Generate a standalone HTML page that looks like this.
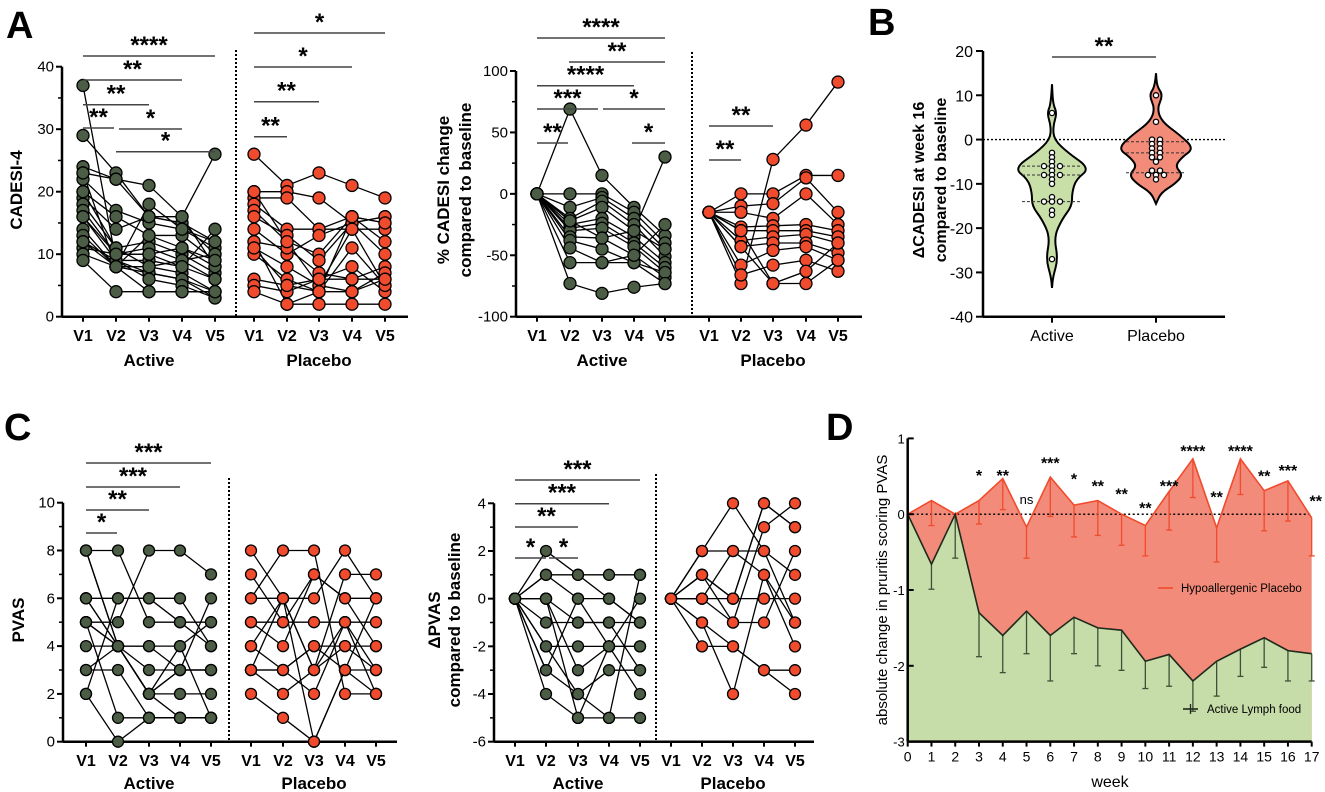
<!DOCTYPE html>
<html><head><meta charset="utf-8">
<style>
html,body{margin:0;padding:0;background:#fff;}
svg{display:block;font-family:"Liberation Sans",Arial,sans-serif;}
</style></head>
<body>
<svg id="fig" width="1325" height="792" viewBox="0 0 1325 792" xmlns="http://www.w3.org/2000/svg"></svg>
<script>
// ===== Data =====
const visits = ["V1","V2","V3","V4","V5"];
// Panel A left: CADESI-4
const aActive = [[37,9,7,6,4],[29,23,16,15,12],[24,22,21,16,26],[23,22,16,15,10],[22,17,15,14,11],[20,16,13,13,9],[19,14,16,16,8],[18,11,12,10,7],[17,10,11,9,6],[16,9,9,8,6],[14,8,8,7,4],[13,8,7,6,3],[12,9,6,5,3],[11,10,10,11,8],[10,8,4,4,4],[9,4,4,4,4],[23,8,18,14,12],[20,11,8,9,10],[16,10,10,8,14],[12,8,13,11,9]];
const aPlacebo = [[26,21,23,21,19],[20,20,19,15,16],[19,19,14,16,15],[18,14,14,14,14],[17,12,10,16,12],[16,13,9,15,10],[14,10,13,15,16],[12,11,7,6,8],[11,8,5,4,7],[10,6,4,4,6],[6,5,4,11,5],[5,4,6,8,4],[4,2,2,2,2],[20,12,5,14,5],[12,2,4,16,15],[11,5,6,6,6]];
// Panel A right: % CADESI change
const pActive = [[0,69,15,-11,-34],[0,0,0,-15,-40],[0,-11,-3,-20,-45],[0,-20,-6,-25,-51],[0,-22,-11,-30,30],[0,-25,-20,-35,-56],[0,-28,-24,-40,-60],[0,-30,-28,-43,-64],[0,-35,-36,-50,-68],[0,-38,-45,-56,-73],[0,-44,-56,-56,-64],[0,-56,-56,-50,-25],[0,-73,-81,-76,-73],[0,-22,-36,-30,-45]];
const pPlacebo = [[-15,-73,28,56,91],[-15,0,0,15,15],[-15,-10,-8,13,-15],[-15,-15,-20,0,-25],[-15,-27,-26,-25,-30],[-15,-30,-30,-30,-35],[-15,-38,-35,-33,-40],[-15,-43,-40,-40,-48],[-15,-58,-46,-43,-54],[-15,-66,-58,-54,-63],[-15,-30,-73,-63,-40],[-15,-43,-73,-73,-54]];
// Panel C left: PVAS
const cActive = [[8,8,5,5,4],[8,4,2,1,1],[8,4,2,2,2],[6,6,6,6,4],[6,4,2,3,6],[5,5,8,8,7],[5,4,3,3,3],[5,4,2,4,1],[4,4,4,4,5],[3,3,1,1,1],[3,4,4,3,3],[2,0,1,1,1],[6,4,2,3,3],[5,1,1,1,1],[2,6,6,5,5]];
const cPlacebo = [[8,6,3,5,3],[7,5,7,6,6],[6,8,8,2,2],[6,6,3,4,4],[5,5,5,5,5],[4,6,6,8,6],[3,3,4,4,3],[3,6,0,3,6],[3,2,3,7,7],[3,3,4,3,2],[2,1,0,3,3],[4,3,2,5,2],[5,4,7,6,4]];
// Panel C right: delta PVAS
const dActive = [[0,2,1,1,1],[0,1,0,0,-1],[0,1,1,0,-1],[0,0,-1,-1,-1],[0,0,-3,-2,-2],[0,-1,-1,-1,-3],[0,-2,-2,-2,-2],[0,-2,-4,-3,-3],[0,-3,0,-2,-4],[0,-3,-4,-5,1],[0,-4,-5,-5,-5],[0,0,-5,-2,0]];
const dPlacebo = [[0,2,4,2,1],[0,2,2,2,-1],[0,1,0,4,3],[0,1,-1,3,4],[0,0,0,0,0],[0,0,2,1,-2],[0,-1,-2,-3,-3],[0,-1,-4,1,-1],[0,-2,-2,-3,-4],[0,0,-1,-1,2],[0,1,0,4,3]];
// Panel B: violin points
const bActivePts = [6,-3,-4,-5,-6,-6,-6,-7,-8,-8,-8,-9,-10,-13,-14,-14,-14,-16,-17,-27];
const bPlaceboPts = [10,4,0,0,-1,-1,-2,-2,-3,-3,-4,-4,-5,-7,-7,-8,-8,-8,-9];
const bActiveProfileV = [12.5,8,6,3,0,-3,-6.5,-9,-12,-15,-18,-22,-27,-31,-33.5];
const bActiveProfileW = [0,1,5,1,2,16,38,24,20,20,10,2,6,1,0];
const bPlaceboProfileV = [15,12,10,7,4,1,-2,-4,-6,-8,-10,-12,-14.5];
const bPlaceboProfileW = [0,1,7,1,6,24,38,26,19,27,19,5,0];
const bActiveQuart = [-6,-8,-14];
const bPlaceboQuart = [-0.5,-3,-7.5];
// Panel D
const weeks = [0,1,2,3,4,5,6,7,8,9,10,11,12,13,14,15,16,17];
const dPlac = [0,0.18,0,0.18,0.47,-0.17,0.49,0.12,0.18,0,-0.15,0.3,0.73,-0.18,0.73,0.31,0.44,-0.05];
const dPlacErr = [0,-0.15,0,-0.13,0.06,-0.58,-0.03,-0.3,-0.28,-0.41,-0.55,-0.21,0.22,-0.63,0.26,-0.22,-0.09,-0.55];
const dAct = [0,-0.66,0,-1.3,-1.6,-1.28,-1.6,-1.36,-1.5,-1.53,-1.94,-1.85,-2.2,-1.94,-1.78,-1.63,-1.8,-1.84];
const dActErr = [0,-0.99,-0.58,-1.88,-2.09,-1.84,-2.2,-1.84,-2.0,-2.06,-2.3,-2.27,-2.6,-2.4,-2.14,-2.02,-2.2,-2.2];
const dSig = ["","","","*","**","ns","***","*","**","**","**","***","****","**","****","**","***","**"];
const dSigY = [0,0,0,0.56,0.56,0.2,0.72,0.51,0.42,0.31,0.13,0.42,0.88,0.27,0.88,0.55,0.62,0.22];
const dYTicks = [1,0,-1,-2,-3];

// ===== Helpers =====
const NS = "http://www.w3.org/2000/svg";
const svg = document.getElementById("fig");
function mk(tag, attrs, parent){
  const e = document.createElementNS(NS, tag);
  for (const k in attrs) e.setAttribute(k, attrs[k]);
  (parent||svg).appendChild(e);
  return e;
}
function txt(s, attrs, parent){ const e = mk("text", attrs, parent); e.textContent = s; return e; }
const GREEN = "#4b5d45", RED = "#f04b2d";

function pairedPanel(c){
  const g = mk("g", {});
  
  
  const y = v => c.py0 + (v - c.vmin) * (c.py1 - c.py0) / (c.vmax - c.vmin);
  const ax = mk("line", {x1:c.ax, y1:y(c.vmax), x2:c.ax, y2:y(c.vmin), stroke:"#000","stroke-width":2.5}, g);
  
  
  const xa = mk("line", {x1:c.ax, y1:y(c.vmin), x2:c.xEnd, y2:y(c.vmin), stroke:"#000","stroke-width":2.5}, g);
  
  
  c.ticks.forEach((t,i)=>{
    mk("line",{x1:c.ax-6,y1:y(t),x2:c.ax,y2:y(t),stroke:"#000","stroke-width":2},g);
    if (i < c.ticks.length-1){ const m=(t+c.ticks[i+1])/2; mk("line",{x1:c.ax-4,y1:y(m),x2:c.ax,y2:y(m),stroke:"#000","stroke-width":1.5},g); }
    const tl = txt(String(t),{x:c.ax-8,y:y(t)+5,"text-anchor":"end","font-size":c.tf||15},g);
    
    
  });
  const dv = mk("line",{x1:c.div,y1:c.divTop,x2:c.div,y2:y(c.vmin),stroke:"#000","stroke-width":2,"stroke-dasharray":"2,2"},g);
  
  
  [[c.actX,"Active"],[c.plaX,"Placebo"]].forEach(([xs,lab])=>{
    xs.forEach((x,i)=>{
      mk("line",{x1:x,y1:y(c.vmin),x2:x,y2:y(c.vmin)+5,stroke:"#000","stroke-width":2},g);
      const vl = txt(visits[i],{x:x,y:c.vY,"text-anchor":"middle","font-size":16,"font-weight":"bold"},g);
      
      
    });
    const gl = txt(lab,{x:xs[2],y:c.gY,"text-anchor":"middle","font-size":17,"font-weight":"bold"},g);
    
    
  });
  [[c.act,c.actX,GREEN,"active"],[c.pla,c.plaX,RED,"placebo"]].forEach(([data,xs,col,nm])=>{
    data.forEach(s=>{
      const pl = mk("polyline",{points:s.map((v,i)=>xs[i]+","+y(v)).join(" "),fill:"none",stroke:"#000","stroke-width":1.3},g);
      
      
    });
    data.forEach(s=>s.forEach((v,i)=>{
      const p = mk("circle",{cx:xs[i],cy:y(v),r:c.r||6,fill:col,stroke:"#000","stroke-width":1.3},g);
      
      
    }));
  });
  c.sig.forEach(([x1,x2,ly,s])=>{
    const l = mk("line",{x1:x1,y1:ly,x2:x2,y2:ly,stroke:"#444","stroke-width":1.5},g);
    
    
    const t = txt(s,{x:(x1+x2)/2,y:ly-3,"text-anchor":"middle","font-size":24,"font-weight":"bold"},g);
    
    
  });
  c.title.forEach(([s,x])=>{
    const t = txt(s,{x:x,y:c.titleY,transform:`rotate(-90 ${x} ${c.titleY})`,"text-anchor":"middle","font-size":c.titleF||17,"font-weight":"bold"},g);
    
    
  });
}

[["A",6,38],["B",868,35],["C",4,440],["D",826,440]].forEach(([s,x,yy])=>{
  const t = txt(s,{x:x,y:yy,"font-size":38,"font-weight":"bold"});
  
  
});

const aAX=[83,116,149,182,215], aPX=[254,287,319,352,385];
pairedPanel({name:"panel-a-cadesi",ax:62,py0:316.7,py1:66.7,vmin:0,vmax:40,ticks:[0,10,20,30,40],xEnd:408,div:236,divTop:50,
  actX:aAX,plaX:aPX,act:aActive,pla:aPlacebo,vY:341,gY:366,
  sig:[[83,215,56,"****"],[83,182,80,"**"],[83,149,104.7,"**"],[83,114,128,"**"],[119,182,129,"*"],[116,215,151.7,"*"],
       [254,385,33,"*"],[254,352,67,"*"],[254,319,101.7,"**"],[254,287,136.7,"**"]],
  title:[["CADESI-4",22]],titleY:190});

const pAX=[537,570,602,634,665], pPX=[709,741,773,806,838];
pairedPanel({name:"panel-a-percent-change",ax:516,py0:316.7,py1:71,vmin:-100,vmax:100,ticks:[-100,-50,0,50,100],xEnd:862,div:692,divTop:52,
  actX:pAX,plaX:pPX,act:pActive,pla:pPlacebo,vY:341,gY:366,
  sig:[[537,665,38,"****"],[569,665,62,"**"],[537,634,85.7,"****"],[537,598,109,"***"],[603,665,109,"*"],[537,568,143,"**"],[632,665,143,"*"],
       [709,773,126,"**"],[709,741,160,"**"]],
  title:[["% CADESI  change",449],["compared to baseline",471]],titleY:190});

const cAX=[86,118,149,180,211], cPX=[251,283,314,345,376];
pairedPanel({name:"panel-c-pvas",ax:63,py0:741.7,py1:502.7,vmin:0,vmax:10,ticks:[0,2,4,6,8,10],xEnd:397,div:229,divTop:478,
  actX:cAX,plaX:cPX,act:cActive,pla:cPlacebo,vY:766,gY:789,r:5.5,
  sig:[[86,211,463,"***"],[86,180,487,"***"],[86,149,510,"**"],[86,117,533,"*"]],
  title:[["PVAS",24]],titleY:620});

const dAX=[515,546,578,609,640], dPX=[671,702,733,764,795];
pairedPanel({name:"panel-c-delta-pvas",ax:494,py0:741.7,py1:503.3,vmin:-6,vmax:4,ticks:[-6,-4,-2,0,2,4],xEnd:814,div:656,divTop:474,
  actX:dAX,plaX:dPX,act:dActive,pla:dPlacebo,vY:766,gY:789,r:5.5,
  sig:[[515,640,480,"***"],[515,609,503.7,"***"],[515,578,527,"**"],[515,546,558,"*"],[549,578,558,"*"]],
  title:[["\u0394PVAS",440],["compared to baseline",460]],titleY:620});

// ===== Panel B =====
(function(){
  const g = mk("g",{});
  
  
  const ax=983, y = v => 316.7 + (v+40)*(51-316.7)/60;
  const a = mk("line",{x1:ax,y1:y(20),x2:ax,y2:y(-40),stroke:"#000","stroke-width":2.5},g);
  
  
  const xa = mk("line",{x1:ax,y1:y(-40),x2:1225,y2:y(-40),stroke:"#000","stroke-width":2.5},g);
  
  
  [20,10,0,-10,-20,-30,-40].forEach(t=>{
    mk("line",{x1:ax-7,y1:y(t),x2:ax,y2:y(t),stroke:"#000","stroke-width":2},g);
    const tl = txt(String(t),{x:ax-10,y:y(t)+6,"text-anchor":"end","font-size":16},g);
    
    
  });
  const zl = mk("line",{x1:ax,y1:y(0),x2:1225,y2:y(0),stroke:"#000","stroke-width":1.3,"stroke-dasharray":"2,2"},g);
  
  
  function violin(cx, V, W, fill, pts, q, nm){
    let left = V.map((v,i)=>[cx-W[i], y(v)]), right = V.map((v,i)=>[cx+W[i], y(v)]).reverse();
    const all = left.concat(right);
    let d = "M"+all[0][0]+","+all[0][1];
    for(let i=1;i<all.length-1;i++){ const mx=(all[i][0]+all[i+1][0])/2, my=(all[i][1]+all[i+1][1])/2; d+=` Q${all[i][0]},${all[i][1]} ${mx},${my}`; }
    d += " L"+all[all.length-1][0]+","+all[all.length-1][1]+"Z";
    const p = mk("path",{d:d,fill:fill,stroke:"#000","stroke-width":2},g);
    
    
    q.forEach(v=>{
      const l = mk("line",{x1:cx-30,y1:y(v),x2:cx+30,y2:y(v),stroke:"#333","stroke-width":1,"stroke-dasharray":"3,2"},g);
      
      
    });
    const counts = {};
    pts.forEach(v=>{counts[v]=(counts[v]||0)+1;});
    const seen = {};
    pts.forEach(v=>{
      const n=counts[v], k=(seen[v]=(seen[v]||0)+1)-1;
      const off = (k-(n-1)/2)*8;
      const c = mk("circle",{cx:cx+off,cy:y(v),r:2.6,fill:"#fff",stroke:"#000","stroke-width":1.3},g);
      
      
    });
    mk("line",{x1:cx,y1:y(-40),x2:cx,y2:y(-40)+6,stroke:"#000","stroke-width":2},g);
  }
  violin(1052,bActiveProfileV,bActiveProfileW,"#c8dfa8",bActivePts,bActiveQuart,"active");
  violin(1156,bPlaceboProfileV,bPlaceboProfileW,"#f28b78",bPlaceboPts,bPlaceboQuart,"placebo");
  const sb = mk("line",{x1:1052,y1:57,x2:1156,y2:57,stroke:"#444","stroke-width":1.5},g);
  
  
  const st = txt("**",{x:1104,y:54,"text-anchor":"middle","font-size":24,"font-weight":"bold"},g);
  
  
  [["Active",1052],["Placebo",1156]].forEach(([s,x])=>{
    const t = txt(s,{x:x,y:341,"text-anchor":"middle","font-size":16},g);
    
    
  });
  [["\u0394CADESI at week 16",924],["compared to baseline",946]].forEach(([s,x])=>{
    const t = txt(s,{x:x,y:180,transform:`rotate(-90 ${x} 180)`,"text-anchor":"middle","font-size":16,"font-weight":"bold"},g);
    
    
  });
})();

// ===== Panel D =====
(function(){
  const g = mk("g",{});
  
  
  const X = w => 907.7 + w*(1311.7-907.7)/17;
  const Y = v => 514.2 - v*75.8;
  const bottom = Y(-3);
  const plaPts = weeks.map((w,i)=>X(w)+","+Y(dPlac[i])).join(" ");
  const actPts = weeks.map((w,i)=>X(w)+","+Y(dAct[i])).join(" ");
  const ra = mk("polygon",{points:`${X(0)},${bottom} ${plaPts} ${X(17)},${bottom}`,fill:"#f28b7a"},g);
  
  
  const ga = mk("polygon",{points:`${X(0)},${bottom} ${actPts} ${X(17)},${bottom}`,fill:"#c6dca9"},g);
  
  
  const zl = mk("line",{x1:X(0),y1:Y(0),x2:X(17),y2:Y(0),stroke:"#000","stroke-width":1.5,"stroke-dasharray":"2,2.5"},g);
  
  
  weeks.forEach((w,i)=>{
    if(i===0) return;
    const e1 = mk("line",{x1:X(w),y1:Y(dPlac[i]),x2:X(w),y2:Y(dPlacErr[i]),stroke:RED,"stroke-width":1.3},g);
    
    
    mk("line",{x1:X(w)-3,y1:Y(dPlacErr[i]),x2:X(w)+3,y2:Y(dPlacErr[i]),stroke:RED,"stroke-width":1.3},g);
    const e2 = mk("line",{x1:X(w),y1:Y(dAct[i]),x2:X(w),y2:Y(dActErr[i]),stroke:"#3c5236","stroke-width":1.3},g);
    
    
    mk("line",{x1:X(w)-3,y1:Y(dActErr[i]),x2:X(w)+3,y2:Y(dActErr[i]),stroke:"#3c5236","stroke-width":1.3},g);
  });
  const pl = mk("polyline",{points:plaPts,fill:"none",stroke:RED,"stroke-width":1.6},g);
  
  
  const al = mk("polyline",{points:actPts,fill:"none",stroke:"#1f2a1b","stroke-width":1.6},g);
  
  
  const ya = mk("line",{x1:X(0),y1:Y(1),x2:X(0),y2:bottom,stroke:"#000","stroke-width":2.5},g);
  
  
  const xa = mk("line",{x1:X(0),y1:bottom,x2:X(17),y2:bottom,stroke:"#000","stroke-width":2.5},g);
  
  
  dYTicks.forEach(t=>{
    mk("line",{x1:X(0),y1:Y(t),x2:X(0)+6,y2:Y(t),stroke:"#000","stroke-width":2},g);
    const tl = txt(String(t),{x:X(0)-3,y:Y(t)+5,"text-anchor":"end","font-size":13},g);
    
    
  });
  weeks.forEach(w=>{
    mk("line",{x1:X(w),y1:bottom,x2:X(w),y2:bottom+5,stroke:"#000","stroke-width":2},g);
    const tl = txt(String(w),{x:X(w),y:bottom+20,"text-anchor":"middle","font-size":14},g);
    
    
  });
  weeks.forEach((w,i)=>{
    if(!dSig[i]) return;
    const isNs = dSig[i]==="ns";
    const t = txt(dSig[i],{x:X(w)+(i===17?4:0),y:Y(dSigY[i])+(isNs?5:9),"text-anchor":"middle","font-size":isNs?13:16,"font-weight":isNs?"normal":"bold"},g);
    
    
  });
  const l1 = mk("line",{x1:1158,y1:588,x2:1173,y2:588,stroke:RED,"stroke-width":1.6},g);
  
  
  const t1 = txt("Hypoallergenic Placebo",{x:1181,y:592,"font-size":11.5},g);
  
  
  const l2 = mk("line",{x1:1183,y1:709,x2:1198,y2:709,stroke:"#1f2a1b","stroke-width":1.6},g);
  
  
  mk("line",{x1:1190.5,y1:704,x2:1190.5,y2:714,stroke:"#1f2a1b","stroke-width":1.3},g);
  const t2 = txt("Active Lymph food",{x:1207,y:713,"font-size":11.5},g);
  
  
  const xt = txt("week",{x:1110,y:787,"text-anchor":"middle","font-size":16},g);
  
  
  const yt = txt("absolute change in pruritis scoring PVAS",{x:887,y:590,transform:"rotate(-90 887 590)","text-anchor":"middle","font-size":15},g);
  
  
})();
</script>
</body></html>
